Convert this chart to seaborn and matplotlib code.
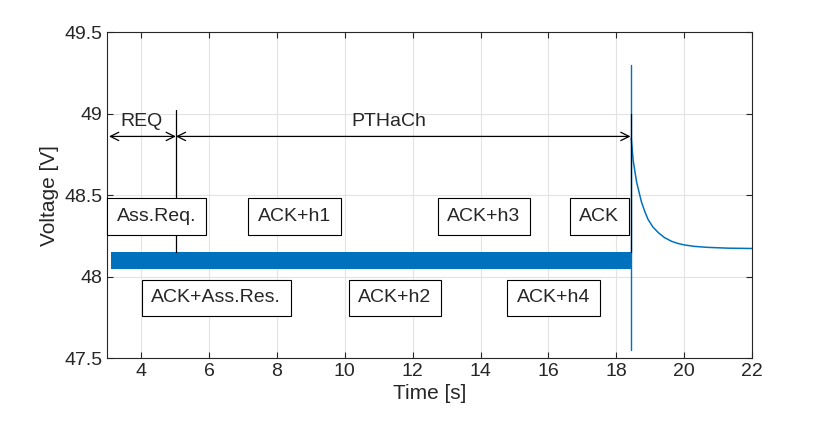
import numpy as np
import pandas as pd
import matplotlib
matplotlib.use("Agg")
import matplotlib.pyplot as plt
import seaborn as sns

# Noisy voltage band before the switch
band_t = [3.1, 18.44]
band_low = [48.05, 48.05]
band_high = [48.15, 48.15]

# Spike at the switch
spike_t = [18.44, 18.44]
spike_v = [47.55, 49.3]

# Decay after the switch
decay_t = [18.44, 18.5, 18.6, 18.74, 18.84, 18.94, 19.08, 19.24, 19.42, 19.63,
           19.8, 20.0, 20.3, 20.69, 21.3, 22.0]
decay_v = [48.85, 48.71, 48.58, 48.46, 48.40, 48.35, 48.305, 48.27, 48.24, 48.217,
           48.205, 48.195, 48.186, 48.18, 48.175, 48.173]

# Phase markers and labels
marker_t = [5.02, 18.43]
marker_top = [49.02, 49.0]
marker_bottom = [48.15, 48.15]
phase_names = ["REQ", "PTHaCh"]
phase_start = [3.05, 5.02]
phase_end = [5.02, 18.42]
phase_text_x = [4.0, 11.3]

box_labels = ["Ass.Req.", "ACK+h1", "ACK+h3", "ACK",
              "ACK+Ass.Res.", "ACK+h2", "ACK+h4"]
box_x = [4.46, 8.52, 14.1, 17.5, 6.21, 11.48, 16.14]
box_y = [48.37, 48.37, 48.37, 48.37, 47.87, 47.87, 47.87]

blue = "#0072BD"

sns.set_style("whitegrid")
plt.rcParams["font.family"] = ["Liberation Sans", "DejaVu Sans"]

fig = plt.figure(figsize=(8.3, 4.23), dpi=100)
ax = fig.add_axes([0.1293, 0.153, 0.7767, 0.7713])

ax.fill_between(band_t, band_low, band_high, color=blue, lw=0)
sns.lineplot(x=spike_t, y=spike_v, color=blue, lw=1, ax=ax, estimator=None, sort=False)
sns.lineplot(x=decay_t, y=decay_v, color=blue, lw=1.1, ax=ax, estimator=None, sort=False)

# vertical phase markers
for t, top, bot in zip(marker_t, marker_top, marker_bottom):
    ax.plot([t, t], [bot, top], color="black", lw=0.9)

# double arrows with phase names
for name, s, e, tx in zip(phase_names, phase_start, phase_end, phase_text_x):
    ax.annotate("", xy=(s, 48.86), xytext=(e, 48.86),
                arrowprops=dict(arrowstyle="<->", color="black", lw=0.9,
                                mutation_scale=15, shrinkA=0, shrinkB=0))
    ax.text(tx, 48.95, name, ha="center", va="center", fontsize=14)

# message boxes
for lab, x, y in zip(box_labels, box_x, box_y):
    ax.text(x, y, lab, ha="center", va="center", fontsize=14,
            bbox=dict(boxstyle="square,pad=0.5", fc="white", ec="black", lw=0.8))

ax.set_xlim(3.0, 22)
ax.set_ylim(47.5, 49.5)
ax.set_xticks(np.arange(4, 23, 2))
ax.set_yticks([47.5, 48, 48.5, 49, 49.5])
ax.set_yticklabels(["47.5", "48", "48.5", "49", "49.5"])
ax.set_xlabel("Time [s]", fontsize=15, color="#262626", labelpad=3)
ax.set_ylabel("Voltage [V]", fontsize=15, color="#262626", labelpad=4)

ax.grid(True, color="#e3e3e3", lw=0.8)
ax.tick_params(direction="in", length=4, width=0.8, colors="#262626",
               labelsize=14, top=True, right=True, bottom=True, left=True)
for sp in ax.spines.values():
    sp.set_color("#262626")
    sp.set_linewidth(0.8)

fig.savefig("out.png", dpi=100)
